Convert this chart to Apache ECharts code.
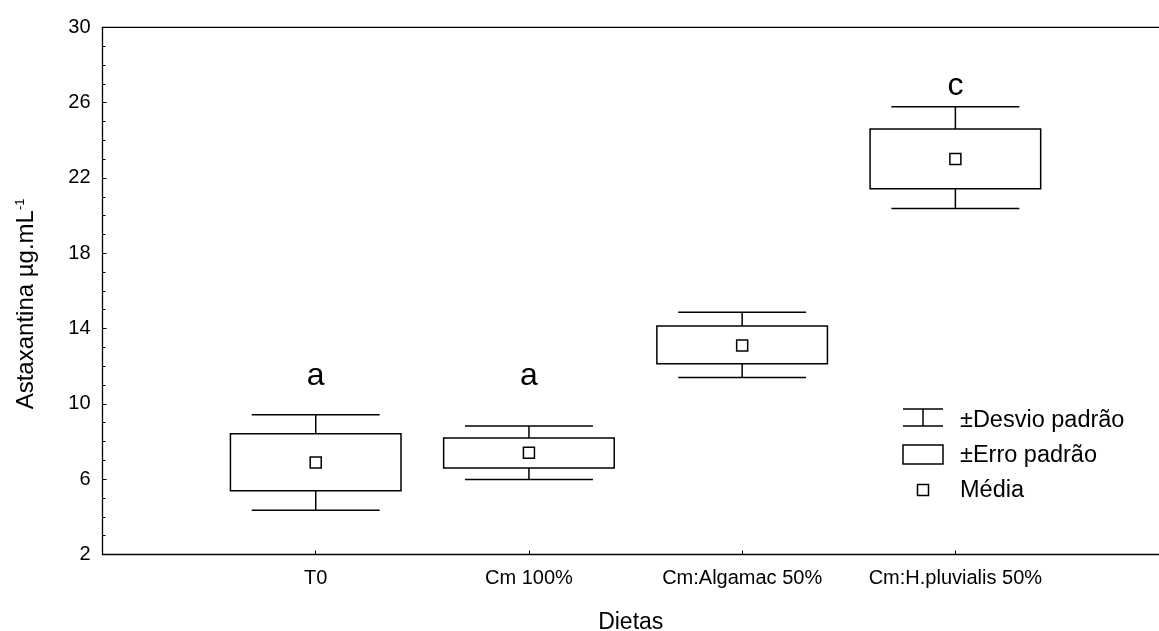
<!DOCTYPE html>
<html>
<head>
<meta charset="utf-8">
<script src="https://cdn.jsdelivr.net/npm/echarts@6/dist/echarts.min.js"></script>
<style>html,body{margin:0;padding:0;background:#fff;width:100%;height:100%;overflow:hidden}#c{width:1159px;height:631px;position:absolute;left:0;top:0}</style>
</head>
<body>
<div id="c"></div>
<script>
const categories = ['T0', 'Cm 100%', 'Cm:Algamac 50%', 'Cm:H.pluvialis 50%'];
const means  = [6.88, 7.41, 13.10, 23.00];
const seLow  = [5.38, 6.60, 12.13, 21.42];
const seHigh = [8.41, 8.19, 14.14, 24.60];
const sdLow  = [4.35, 5.98, 11.40, 20.38];
const sdHigh = [9.42, 8.83, 14.86, 25.78];
const letters = ['a', 'a', '', 'c'];
const letterY = [11.47, 11.47, null, 26.88];
const yTicks = [2, 6, 10, 14, 18, 22, 26, 30];

const FONT = 'Liberation Sans, Arial, sans-serif';
const chart = echarts.init(document.getElementById('c'), null, {renderer: 'canvas', width: 1159, height: 631});

const boxData = categories.map((c, i) => [i + 1, means[i], seLow[i], seHigh[i], sdLow[i], sdHigh[i]]);

const option = {
  animation: false,
  backgroundColor: '#fff',
  grid: {left: 102.5, right: 0, top: 27.3, bottom: 76.5, containLabel: false, outerBoundsMode: 'none'},
  xAxis: {
    type: 'value', min: 0, max: 4.955, interval: 1,
    name: 'Dietas', nameLocation: 'middle', nameGap: 57,
    nameTextStyle: {fontFamily: FONT, fontSize: 23, color: '#000'},
    axisLine: {show: true, onZero: false, lineStyle: {color: '#000', width: 1.3}},
    axisTick: {show: true, inside: true, length: 4, lineStyle: {color: '#000'}},
    axisLabel: {
      margin: 14, fontFamily: FONT, fontSize: 20, color: '#000', showMaxLabel: false, showMinLabel: false,
      formatter: v => (Number.isInteger(v) && v >= 1 && v <= categories.length) ? categories[v - 1] : ''
    },
    splitLine: {show: false}
  },
  yAxis: {
    type: 'value', min: yTicks[0], max: yTicks[yTicks.length - 1], interval: 4,
    name: '{a|Astaxantina µg.mL}{s|-1}', nameLocation: 'middle', nameGap: 63, nameRotate: 90,
    nameTextStyle: {
      fontFamily: FONT, color: '#000',
      rich: {a: {fontFamily: FONT, fontSize: 24, color: '#000'}, s: {fontFamily: FONT, fontSize: 13, color: '#000', verticalAlign: 'top', padding: [0, 26, 13, 0]}}
    },
    axisLine: {show: true, onZero: false, lineStyle: {color: '#000', width: 1.3}},
    axisTick: {show: true, inside: true, length: 4, lineStyle: {color: '#000'}},
    minorTick: {show: true, splitNumber: 4, length: 3, lineStyle: {color: '#000'}},
    axisLabel: {margin: 12, fontFamily: FONT, fontSize: 20, color: '#000'},
    splitLine: {show: false}
  },
  series: [
    {
      name: 'box', type: 'custom', data: boxData,
      encode: {x: 0, y: [1, 2, 3, 4, 5]},
      renderItem: function (params, api) {
        const x = api.value(0);
        const unit = api.size([1, 0])[0];
        const bw = unit * 0.8, cw = unit * 0.6;
        const pm = api.coord([x, api.value(1)]);
        const pLo = api.coord([x, api.value(2)]);
        const pHi = api.coord([x, api.value(3)]);
        const sLo = api.coord([x, api.value(4)]);
        const sHi = api.coord([x, api.value(5)]);
        const ls = {stroke: '#000', lineWidth: 1.5, fill: null};
        return {
          type: 'group',
          children: [
            {type: 'line', shape: {x1: pm[0], y1: sHi[1], x2: pm[0], y2: pHi[1]}, style: ls},
            {type: 'line', shape: {x1: pm[0], y1: sLo[1], x2: pm[0], y2: pLo[1]}, style: ls},
            {type: 'line', shape: {x1: pm[0] - cw / 2, y1: sHi[1], x2: pm[0] + cw / 2, y2: sHi[1]}, style: ls},
            {type: 'line', shape: {x1: pm[0] - cw / 2, y1: sLo[1], x2: pm[0] + cw / 2, y2: sLo[1]}, style: ls},
            {type: 'rect', shape: {x: pm[0] - bw / 2, y: pHi[1], width: bw, height: pLo[1] - pHi[1]}, style: {stroke: '#000', lineWidth: 1.5, fill: '#fff'}},
            {type: 'rect', shape: {x: pm[0] - 5.5, y: pm[1] - 5.5, width: 11, height: 11}, style: {stroke: '#000', lineWidth: 1.5, fill: '#fff'}}
          ]
        };
      }
    },
    {
      name: 'letters', type: 'custom',
      data: categories.map((c, i) => [i + 1, letterY[i], letters[i]]).filter(d => d[2]),
      renderItem: function (params, api) {
        const p = api.coord([api.value(0), api.value(1)]);
        return {type: 'text', x: p[0], y: p[1], style: {text: api.value(2), fontFamily: FONT, fontSize: 32, fill: '#000', align: 'center', verticalAlign: 'middle'}};
      }
    }
  ],
  graphic: [
    {type: 'line', shape: {x1: 903, y1: 409, x2: 943, y2: 409}, style: {stroke: '#000', lineWidth: 1.5}},
    {type: 'line', shape: {x1: 903, y1: 426, x2: 943, y2: 426}, style: {stroke: '#000', lineWidth: 1.5}},
    {type: 'line', shape: {x1: 923, y1: 409, x2: 923, y2: 426}, style: {stroke: '#000', lineWidth: 1.5}},
    {type: 'text', x: 960, y: 421, style: {text: '±Desvio padrão', fontFamily: FONT, fontSize: 23.5, fill: '#000', verticalAlign: 'middle'}},
    {type: 'rect', shape: {x: 903, y: 445, width: 40, height: 19}, style: {stroke: '#000', lineWidth: 1.5, fill: '#fff'}},
    {type: 'text', x: 960, y: 456, style: {text: '±Erro padrão', fontFamily: FONT, fontSize: 23.5, fill: '#000', verticalAlign: 'middle'}},
    {type: 'rect', shape: {x: 917.5, y: 484.5, width: 11, height: 11}, style: {stroke: '#000', lineWidth: 1.5, fill: '#fff'}},
    {type: 'text', x: 960, y: 491, style: {text: 'Média', fontFamily: FONT, fontSize: 23.5, fill: '#000', verticalAlign: 'middle'}},
    {type: 'line', shape: {x1: 102.5, y1: 27.3, x2: 1159, y2: 27.3}, style: {stroke: '#000', lineWidth: 1.3}}
  ]
};
chart.setOption(option);
</script>
</body>
</html>
